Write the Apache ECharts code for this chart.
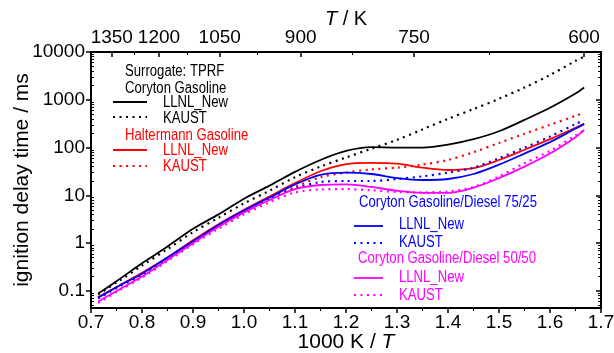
<!DOCTYPE html>
<html><head><meta charset="utf-8">
<script src="https://cdn.jsdelivr.net/npm/echarts@6/dist/echarts.min.js"></script>
<style>html,body{margin:0;padding:0;background:#fff}#c{width:614px;height:353px}</style>
</head><body><div id="c"></div>
<script>
// 1000 K / T grid shared by all curves
var invT = [0.714, 0.75, 0.8, 0.85, 0.9, 0.95, 1.0, 1.05, 1.1, 1.15, 1.2, 1.25, 1.3, 1.35, 1.4, 1.45, 1.5, 1.55, 1.6, 1.65, 1.667];
// ignition delay time / ms
var corytonLLNL  = [0.088, 0.16, 0.38, 0.85, 2.0, 4.0, 8.5, 16, 31, 55, 85, 102, 100, 100, 115, 150, 220, 380, 680, 1350, 1800];
var corytonKAUST = [0.085, 0.15, 0.34, 0.75, 1.7, 3.4, 6.8, 12.5, 24, 40, 62, 95, 145, 240, 400, 640, 1050, 1800, 3300, 6500, 8000];
var halterLLNL   = [0.075, 0.12, 0.24, 0.5, 1.15, 2.5, 5, 9.5, 18, 32, 45, 48, 46, 38, 34, 37, 55, 90, 150, 260, 320];
var halterKAUST  = [0.073, 0.12, 0.23, 0.48, 1.1, 2.3, 4.6, 8.5, 15, 24, 30, 35, 38, 44, 55, 80, 125, 195, 300, 460, 540];
var d7525LLNL    = [0.072, 0.12, 0.23, 0.5, 1.1, 2.4, 4.8, 9, 17, 27, 30, 28, 23, 21, 22, 28, 44, 75, 130, 250, 310];
var d7525KAUST   = [0.07, 0.115, 0.22, 0.47, 1.05, 2.3, 4.5, 8.5, 14, 19, 20, 20, 22, 25, 30, 38, 60, 100, 170, 310, 380];
var d5050LLNL    = [0.06, 0.1, 0.2, 0.45, 1.0, 2.2, 4.4, 8, 13.5, 16.5, 17, 15, 12.5, 11.3, 11.3, 14.5, 23, 40, 75, 165, 235];
var d5050KAUST   = [0.056, 0.095, 0.19, 0.42, 0.95, 2.0, 4.0, 7.2, 11.5, 13.3, 13.5, 12.8, 11.8, 11.6, 12, 15, 25, 47, 85, 180, 230];
// axis ticks
var topTempTicks = [1350, 1200, 1050, 900, 750, 600];
var topTempMinor = [1275, 1125, 975, 825, 675];
var yTicks = [0.1, 1, 10, 100, 1000, 10000];

var FONT = "'Liberation Sans', Arial, sans-serif";
var YMIN = 0.044, YMAX = 10000;

var yMinor = [];
[0.01, 0.1, 1, 10, 100, 1000].forEach(function (d) {
  for (var k = 2; k <= 9; k++) { var v = +(d * k).toPrecision(3); if (v >= YMIN && v <= YMAX) yMinor.push(v); }
});

function pairs(ys) { return invT.map(function (x, i) { return [x, ys[i]]; }); }

var lineBase = { type: 'value', min: 0.7, max: 1.7, axisLine: { show: true, lineStyle: { color: '#000', width: 2 } }, splitLine: { show: false } };
function logY(extra) {
  return Object.assign({ type: 'log', logBase: 10, min: YMIN, max: YMAX, splitLine: { show: false },
    axisLine: { show: true, lineStyle: { color: '#000', width: 2 } } }, extra);
}

var dotted = [2, 4.5];
function ser(name, data, color, dash) {
  return { name: name, type: 'line', data: pairs(data), showSymbol: false, smooth: 0.3,
    xAxisIndex: 0, yAxisIndex: 0,
    lineStyle: { color: color, width: dash ? 2.2 : 1.8, type: dash ? dotted : 'solid' }, z: 3 };
}

function txt(s, x, y, color) {
  return { type: 'text', x: x, y: y, scaleX: 0.82, style: { text: s, fill: color, font: '16px ' + FONT, verticalAlign: 'middle' }, z: 10 };
}
function seg(x1, x2, y, color, dash) {
  return { type: 'line', shape: { x1: x1, y1: y, x2: x2, y2: y }, style: { stroke: color, lineWidth: dash ? 2.2 : 1.8, lineDash: dash ? dotted : null }, z: 10 };
}

var chart = echarts.init(document.getElementById('c'), null, { renderer: 'canvas' });
chart.setOption({
  animation: false,
  backgroundColor: '#fff',
  grid: { left: 91, right: 13, top: 52, bottom: 45, containLabel: false, outerBoundsMode: 'none' },
  xAxis: [
    Object.assign({}, lineBase, { position: 'bottom', interval: 0.1,
      axisTick: { show: true, inside: false, length: 5, lineStyle: { color: '#000', width: 1.5 } },
      minorTick: { show: true, splitNumber: 2, length: 3, lineStyle: { color: '#000' } },
      axisLabel: { color: '#000', fontSize: 19, fontFamily: FONT, margin: 5,
        formatter: function (v) { return v.toFixed(1); } },
      name: '1000 K / {i|T}', nameLocation: 'middle', nameGap: 24, nameMoveOverlap: false,
      nameTextStyle: { color: '#000', fontSize: 21, fontFamily: FONT, rich: { i: { fontStyle: 'italic', fontSize: 21, fontFamily: FONT } } } }),
    Object.assign({}, lineBase, { position: 'top',
      axisTick: { show: true, inside: true, length: 5, customValues: topTempTicks.map(function (t) { return 1000 / t; }), lineStyle: { color: '#000', width: 1.5 } },
      axisLabel: { show: true, color: '#000', fontSize: 19, fontFamily: FONT, margin: 5,
        customValues: topTempTicks.map(function (t) { return 1000 / t; }),
        formatter: function (v) { return String(Math.round(1000 / v)); } },
      name: '{i|T} / K', nameLocation: 'middle', nameGap: 23, nameMoveOverlap: false,
      nameTextStyle: { color: '#000', fontSize: 20, fontFamily: FONT, rich: { i: { fontStyle: 'italic', fontSize: 20, fontFamily: FONT } } } }),
    Object.assign({}, lineBase, { position: 'top', axisLine: { show: false },
      axisTick: { show: true, inside: true, length: 3, customValues: topTempMinor.map(function (t) { return 1000 / t; }), lineStyle: { color: '#000' } },
      axisLabel: { show: false } })
  ],
  yAxis: [
    logY({ position: 'left',
      axisTick: { show: true, inside: false, length: 5, customValues: yTicks, lineStyle: { color: '#000', width: 1.5 } },
      axisLabel: { color: '#000', fontSize: 19, fontFamily: FONT, margin: 6, customValues: yTicks,
        formatter: function (v) { return String(v); } },
      name: 'ignition delay time / ms', nameLocation: 'middle', nameGap: 58, nameMoveOverlap: false,
      nameTextStyle: { color: '#000', fontSize: 21, fontFamily: FONT } }),
    logY({ position: 'left', axisLine: { show: false },
      axisTick: { show: true, inside: true, length: 3, customValues: yMinor, lineStyle: { color: '#000' } },
      axisLabel: { show: false } }),
    logY({ position: 'right',
      axisTick: { show: true, inside: true, length: 5, customValues: yTicks, lineStyle: { color: '#000', width: 1.5 } },
      axisLabel: { show: false } }),
    logY({ position: 'right', axisLine: { show: false },
      axisTick: { show: true, inside: true, length: 3, customValues: yMinor, lineStyle: { color: '#000' } },
      axisLabel: { show: false } })
  ],
  series: [
    ser('Coryton LLNL_New', corytonLLNL, '#000000', false),
    ser('Coryton KAUST', corytonKAUST, '#000000', true),
    ser('Haltermann LLNL_New', halterLLNL, '#ff0000', false),
    ser('Haltermann KAUST', halterKAUST, '#ff0000', true),
    ser('75/25 LLNL_New', d7525LLNL, '#0000ff', false),
    ser('75/25 KAUST', d7525KAUST, '#0000ff', true),
    ser('50/50 LLNL_New', d5050LLNL, '#ff00ff', false),
    ser('50/50 KAUST', d5050KAUST, '#ff00ff', true)
  ],
  graphic: [
    txt('Surrogate: TPRF', 125, 72, '#000'),
    txt('Coryton Gasoline', 125, 89, '#000'),
    seg(113, 147, 102, '#000', false), txt('LLNL_New', 163, 103, '#000'),
    seg(113, 147, 117, '#000', true), txt('KAUST', 163, 119, '#000'),
    txt('Haltermann Gasoline', 125, 136, '#ff0000'),
    seg(113, 147, 150, '#ff0000', false), txt('LLNL_New', 163, 151, '#ff0000'),
    seg(113, 147, 166, '#ff0000', true), txt('KAUST', 163, 167, '#ff0000'),
    txt('Coryton Gasoline/Diesel 75/25', 359, 203, '#0000ff'),
    seg(354, 383, 226, '#0000ff', false), txt('LLNL_New', 399, 225, '#0000ff'),
    seg(354, 383, 243, '#0000ff', true), txt('KAUST', 399, 243, '#0000ff'),
    txt('Coryton Gasoline/Diesel 50/50', 358, 259, '#ff00ff'),
    seg(354, 383, 278, '#ff00ff', false), txt('LLNL_New', 399, 278, '#ff00ff'),
    seg(354, 383, 295, '#ff00ff', true), txt('KAUST', 399, 296, '#ff00ff')
  ]
});
</script></body></html>
